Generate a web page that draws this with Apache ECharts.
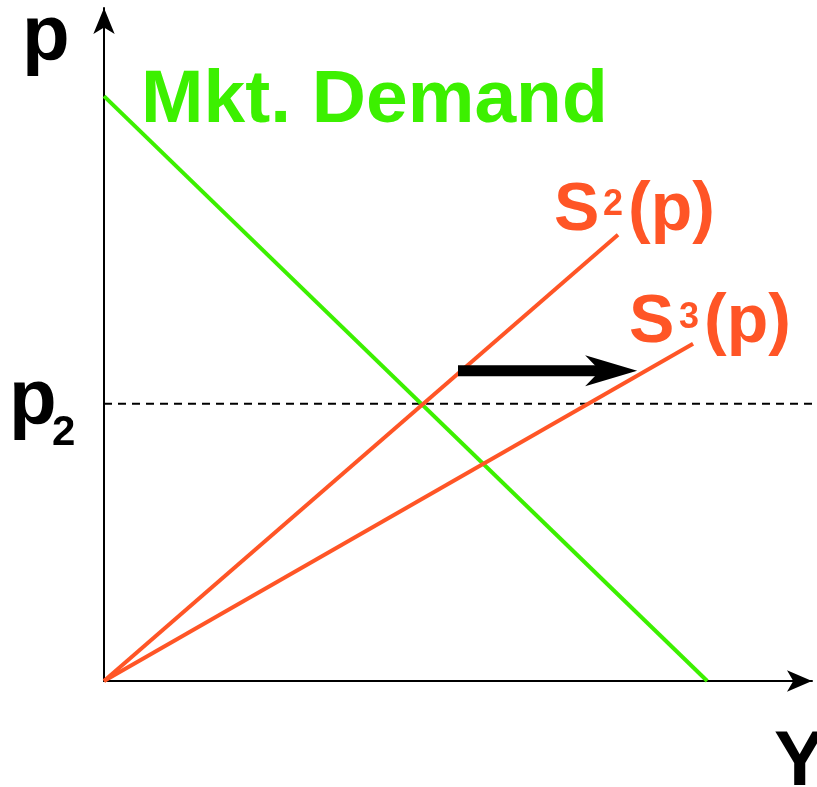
<!DOCTYPE html>
<html>
<head>
<meta charset="utf-8">
<script src="https://cdn.jsdelivr.net/npm/echarts@6/dist/echarts.min.js"></script>
<style>
html,body{margin:0;padding:0;background:#fff;}
#chart{width:817px;height:787px;}
</style>
</head>
<body>
<div id="chart"></div>
<script>
// Data (abstract units, axes run 0..100)
var demandPts = [[0, 86.9], [85.2, 0]];
var supply2Pts = [[0, 0], [72.6, 66.3]];
var supply3Pts = [[0, 0], [83.2, 50.1]];
var p2Level = 41.2;
var p2LinePts = [[0, p2Level], [100.7, p2Level]];
var shiftArrow = [[50.0, 46.1, 75.3]]; // [xStart, y, xEnd]

var GREEN = '#3cf000';
var ORANGE = '#ff5526';
var FONT = '"Liberation Sans", Arial, sans-serif';

var chart = echarts.init(document.getElementById('chart'), null, {renderer: 'canvas'});

// place text by its alphabetic baseline
function txt(text, x, baseline, size, color) {
  return {
    type: 'text', z: 100,
    style: {
      text: text, x: x, y: baseline - 0.82 * size,
      font: 'bold ' + size + 'px ' + FONT,
      fill: color
    }
  };
}

var option = {
  animation: false,
  backgroundColor: '#fff',
  grid: {left: 104, right: 5, top: 8, bottom: 106, containLabel: false},
  xAxis: {
    type: 'value', min: 0, max: 100,
    axisLine: {show: true, onZero: false, symbol: ['none', 'arrow'], symbolSize: [16, 25],
      lineStyle: {color: '#000', width: 2}},
    axisTick: {show: false}, axisLabel: {show: false}, splitLine: {show: false}
  },
  yAxis: {
    type: 'value', min: 0, max: 100,
    axisLine: {show: true, onZero: false, symbol: ['none', 'arrow'], symbolSize: [16, 26],
      lineStyle: {color: '#000', width: 2}},
    axisTick: {show: false}, axisLabel: {show: false}, splitLine: {show: false}
  },
  series: [
    {type: 'line', data: p2LinePts, symbol: 'none', clip: false,
      lineStyle: {color: '#000', width: 2, type: [8, 6]}, z: 2},
    {type: 'line', data: demandPts, symbol: 'none', clip: false,
      lineStyle: {color: GREEN, width: 4}, z: 3},
    {type: 'line', data: supply2Pts, symbol: 'none', clip: false,
      lineStyle: {color: ORANGE, width: 4}, z: 3},
    {type: 'line', data: supply3Pts, symbol: 'none', clip: false,
      lineStyle: {color: ORANGE, width: 4}, z: 3},
    {
      type: 'custom', data: shiftArrow, z: 5, clip: false,
      renderItem: function (params, api) {
        var s = api.coord([api.value(0), api.value(1)]);
        var e = api.coord([api.value(2), api.value(1)]);
        var y = s[1];
        var headLen = 52, headHalf = 15.5, notch = 15, shaftHalf = 5.5;
        return {
          type: 'group',
          children: [
            {type: 'rect', shape: {x: s[0], y: y - shaftHalf, width: (e[0] - headLen + notch + 2) - s[0], height: shaftHalf * 2},
              style: {fill: '#000'}},
            {type: 'polygon', shape: {points: [
              [e[0], y], [e[0] - headLen, y - headHalf], [e[0] - headLen + notch, y], [e[0] - headLen, y + headHalf]
            ]}, style: {fill: '#000'}}
          ]
        };
      }
    }
  ],
  graphic: [
    txt('p', 22, 63, 78, '#000'),
    txt('Mkt. Demand', 141, 125, 75, GREEN),
    txt('S', 554, 233, 68, ORANGE),
    txt('2', 603, 217, 36, ORANGE),
    txt('(p)', 628, 233, 68, ORANGE),
    txt('S', 629, 345, 68, ORANGE),
    txt('3', 679, 330, 36, ORANGE),
    txt('(p)', 704, 345, 68, ORANGE),
    txt('p', 9, 427, 78, '#000'),
    txt('2', 52, 447, 42, '#000'),
    txt('Y', 774, 788, 77, '#000')
  ]
};
chart.setOption(option);
</script>
</body>
</html>
